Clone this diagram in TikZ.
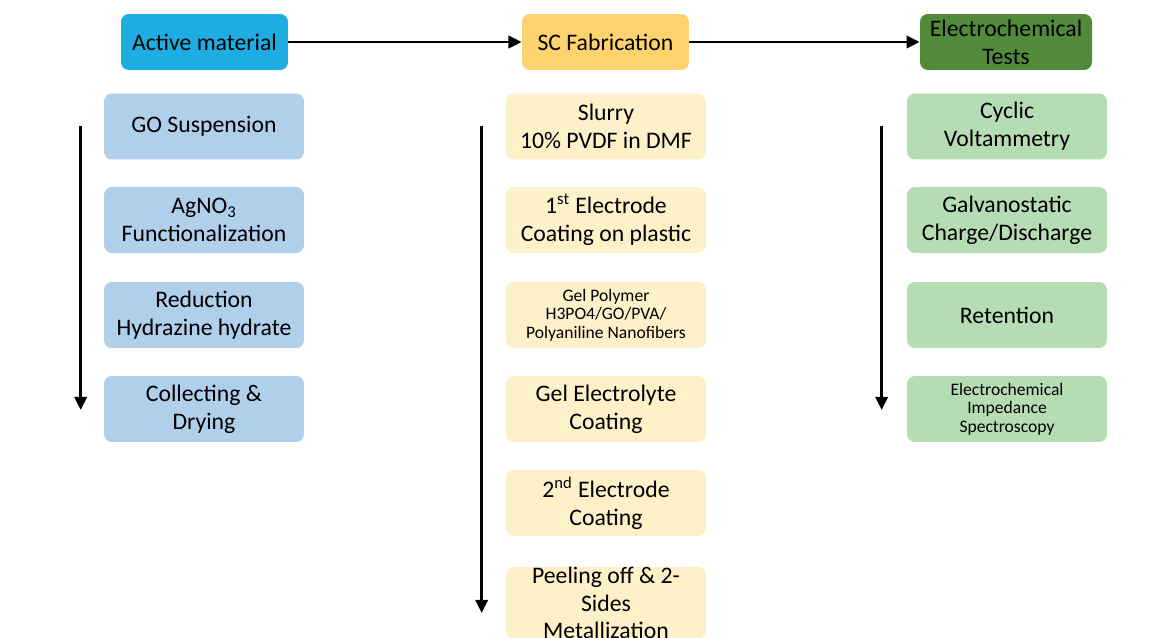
\documentclass[tikz,border=0pt]{standalone}
\usepackage{fontspec}
\setmainfont{Carlito}
\usetikzlibrary{positioning,calc,arrows.meta}

\definecolor{headblue}{HTML}{1DADE3}
\definecolor{stepblue}{HTML}{AFCFEB}
\definecolor{headgold}{HTML}{FDD36F}
\definecolor{stepgold}{HTML}{FEF0C8}
\definecolor{headgreen}{HTML}{518A3B}
\definecolor{stepgreen}{HTML}{B6DCB4}

\tikzset{
  box/.style={rounded corners=4.5pt, align=center, inner xsep=2pt, inner ysep=0pt,
    font=\fontsize{13.5}{15.8}\selectfont, text=black},
  headbox/.style={box, minimum width=3.34cm, minimum height=1.12cm},
  stepbox/.style={box, minimum width=4cm, minimum height=1.32cm},
  small/.style={font=\fontsize{10}{10.6}\selectfont},
  flow/.style={line width=1.7pt, -{Triangle[length=7.5pt,width=7pt]}}
}

\begin{document}
\begin{tikzpicture}[x=0.02cm, y=-0.02cm]
    \clip (0,0) rectangle (1162,638);
    \fill[white] (0,0) rectangle (1162,638);

    % headers
    \node[headbox, fill=headblue] (act) at (204.5,42) {Active material};
    \node[headbox, fill=headgold] (fab) at (605.5,42) {SC Fabrication};
    \node[headbox, fill=headgreen, minimum width=3.44cm] (tst) at (1006,42) {Electrochemical\\Tests};
    \draw[flow] (act) -- (fab);
    \draw[flow] (fab) -- (tst);

    % active material
    \node[stepbox, fill=stepblue] (go) at (204,126.5) {GO Suspension};
    \node[stepbox, fill=stepblue] (ag) at (204,220) {AgNO\textsubscript{3}\\Functionalization};
    \node[stepbox, fill=stepblue] (red) at (204,315) {Reduction\\Hydrazine hydrate};
    \node[stepbox, fill=stepblue] (dry) at (204,409) {Collecting \&\\Drying};
    \draw[flow] ($(go.west)+(-23,0)$) -- ($(dry.west)+(-23,1)$);

    % fabrication
    \node[stepbox, fill=stepgold] (slu) at (606,126.5) {Slurry\\10\% PVDF in DMF};
    \node[stepbox, fill=stepgold] (el1) at (606,220) {1\textsuperscript{st} Electrode\\Coating on plastic};
    \node[stepbox, fill=stepgold, small] (gel) at (606,315) {Gel Polymer\\H3PO4/GO/PVA/\\Polyaniline Nanofibers};
    \node[stepbox, fill=stepgold] (elc) at (606,409) {Gel Electrolyte\\Coating};
    \node[stepbox, fill=stepgold] (el2) at (606,503) {2\textsuperscript{nd} Electrode\\Coating};
    \node[stepbox, fill=stepgold] (pee) at (606,603) {Peeling off \& 2-\\Sides\\Metallization};
    \draw[flow] ($(slu.west)+(-24,0)$) -- ($(el2.west)+(-24,110)$);

    % tests
    \node[stepbox, fill=stepgreen] (cv) at (1007,126.5) {Cyclic\\Voltammetry};
    \node[stepbox, fill=stepgreen] (gcd) at (1007,220) {Galvanostatic\\Charge/Discharge};
    \node[stepbox, fill=stepgreen] (ret) at (1007,315) {Retention};
    \node[stepbox, fill=stepgreen, small] (eis) at (1007,409) {Electrochemical\\Impedance\\Spectroscopy};
    \draw[flow] ($(cv.west)+(-25,0)$) -- ($(eis.west)+(-25,1)$);
\end{tikzpicture}
\end{document}
